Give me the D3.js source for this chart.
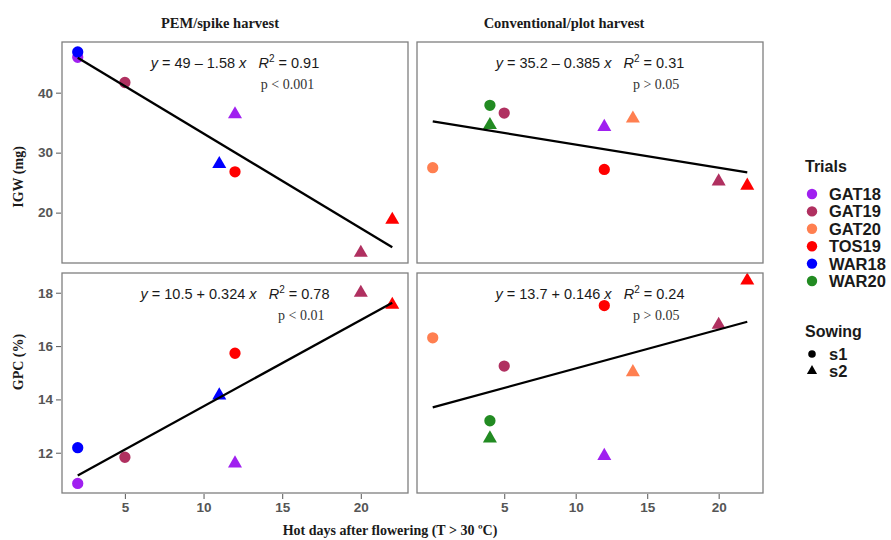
<!DOCTYPE html>
<html>
<head>
<meta charset="utf-8">
<script src="https://cdn.jsdelivr.net/npm/d3@7"></script>
<style>
  body { margin: 0; background: #fff; }
  svg { display: block; }
</style>
</head>
<body>
<svg id="chart" width="891" height="540"></svg>
<script>
// trials and their colours
var trials = ['GAT18', 'GAT19', 'GAT20', 'TOS19', 'WAR18', 'WAR20'];
var trialColors = ['#A020F0', '#B03060', '#FF7F50', '#FF0000', '#0000FF', '#228B22'];
var sowings = ['s1', 's2'];

var xTicks = [5, 10, 15, 20];
var igwTicks = [20, 30, 40];
var gpcTicks = [12, 14, 16, 18];

// [trial, sowing, hot days, value]
var igwPem = [
  ['GAT18', 's1', 2, 45.9], ['WAR18', 's1', 2, 46.8], ['GAT19', 's1', 5, 41.7],
  ['GAT18', 's2', 12, 36.4], ['WAR18', 's2', 11, 28.1], ['TOS19', 's1', 12, 26.8],
  ['GAT19', 's2', 20, 13.3], ['TOS19', 's2', 22, 18.8]
];
var igwConv = [
  ['GAT20', 's1', 0, 27.5], ['WAR20', 's1', 4, 37.9], ['WAR20', 's2', 4, 34.6],
  ['GAT19', 's1', 5, 36.6], ['GAT18', 's2', 12, 34.3], ['TOS19', 's1', 12, 27.2],
  ['GAT20', 's2', 14, 35.7], ['GAT19', 's2', 20, 25.2], ['TOS19', 's2', 22, 24.5]
];
var gpcPem = [
  ['WAR18', 's1', 2, 12.19], ['GAT18', 's1', 2, 10.85], ['GAT19', 's1', 5, 11.83],
  ['WAR18', 's2', 11, 14.15], ['TOS19', 's1', 12, 15.73], ['GAT18', 's2', 12, 11.6],
  ['GAT19', 's2', 20, 18.0], ['TOS19', 's2', 22, 17.55]
];
var gpcConv = [
  ['GAT20', 's1', 0, 16.31], ['GAT19', 's1', 5, 15.25], ['WAR20', 's1', 4, 13.2],
  ['WAR20', 's2', 4, 12.54], ['TOS19', 's1', 12, 17.52], ['GAT20', 's2', 14, 15.02],
  ['GAT18', 's2', 12, 11.88], ['GAT19', 's2', 20, 16.8], ['TOS19', 's2', 22, 18.46]
];

// regression fits: intercept, slope, R2 text, p text, x range
var fitIgwPem = { a: '49', b: -1.58, bt: '1.58', r2: '0.91', p: 'p < 0.001', x0: 2, x1: 22 };
var fitIgwConv = { a: '35.2', b: -0.385, bt: '0.385', r2: '0.31', p: 'p > 0.05', x0: 0, x1: 22 };
var fitGpcPem = { a: '10.5', b: 0.324, bt: '0.324', r2: '0.78', p: 'p < 0.01', x0: 2, x1: 22 };
var fitGpcConv = { a: '13.7', b: 0.146, bt: '0.146', r2: '0.24', p: 'p > 0.05', x0: 0, x1: 22 };

var svg = d3.select('#chart');
var sans = 'Liberation Sans, Arial, sans-serif';
var serif = 'Liberation Serif, Times New Roman, serif';

var color = d3.scaleOrdinal().domain(trials).range(trialColors);
var shape = d3.scaleOrdinal().domain(sowings).range([d3.symbolCircle, d3.symbolTriangle]);

var xLeft = d3.scaleLinear().domain([1, 23]).range([62, 408]);
var xRight = d3.scaleLinear().domain([-1.1, 23.1]).range([417, 763]);
var yTop = d3.scaleLinear().domain([11.6, 48.45]).range([263, 42]);
var yBot = d3.scaleLinear().domain([10.49, 18.74]).range([493, 273]);

var panels = [
  { pts: igwPem, fit: fitIgwPem, x: xLeft, y: yTop },
  { pts: igwConv, fit: fitIgwConv, x: xRight, y: yTop },
  { pts: gpcPem, fit: fitGpcPem, x: xLeft, y: yBot },
  { pts: gpcConv, fit: fitGpcConv, x: xRight, y: yBot }
];

panels.forEach(function(p) {
  var x0 = p.x.range()[0], x1 = p.x.range()[1];
  var y0 = p.y.range()[1], y1 = p.y.range()[0];
  var g = svg.append('g');

  g.selectAll('.pt')
    .data(p.pts)
    .enter().append('path')
    .attr('class', 'pt')
    .attr('transform', function(d) { return 'translate(' + p.x(d[2]) + ',' + p.y(d[3]) + ')'; })
    .attr('d', function(d) {
      return d3.symbol().type(shape(d[1])).size(d[1] === 's1' ? 100 : 85)();
    })
    .attr('fill', function(d) { return color(d[0]); });

  var f = p.fit;
  g.append('line')
    .attr('x1', p.x(f.x0)).attr('y1', p.y(+f.a + f.b * f.x0))
    .attr('x2', p.x(f.x1)).attr('y2', p.y(+f.a + f.b * f.x1))
    .attr('stroke', '#000').attr('stroke-width', 2.3);

  // equation
  var cx = (x0 + x1) / 2;
  var eq = g.append('text')
    .attr('x', cx).attr('y', y0 + 26)
    .attr('text-anchor', 'middle')
    .style('font-family', sans).style('font-size', '14.5px').attr('fill', '#1a1a1a');
  eq.append('tspan').style('font-style', 'italic').text('y');
  eq.append('tspan').text(' = ' + f.a + (f.b < 0 ? ' \u2013 ' : ' + ') + f.bt + ' ');
  eq.append('tspan').style('font-style', 'italic').text('x');
  eq.append('tspan').text('\u00a0\u00a0 ');
  eq.append('tspan').style('font-style', 'italic').text('R');
  eq.append('tspan').attr('dy', -6).style('font-size', '10px').text('2');
  eq.append('tspan').attr('dy', 6).text(' = ' + f.r2);
  var bb = eq.node().getBBox();
  g.append('text')
    .attr('x', bb.x + bb.width - 5).attr('y', y0 + 47)
    .attr('text-anchor', 'end')
    .style('font-family', serif).style('font-size', '14px').attr('fill', '#333')
    .text(f.p);

  g.append('rect')
    .attr('x', x0).attr('y', y0).attr('width', x1 - x0).attr('height', y1 - y0)
    .attr('fill', 'none').attr('stroke', '#7f7f7f').attr('stroke-width', 1.3);
});

function styleAxis(a) {
  a.select('.domain').remove();
  a.selectAll('.tick line').attr('stroke', '#666').attr('stroke-width', 1.1);
  a.selectAll('.tick text')
    .style('font-family', sans).style('font-size', '13.5px')
    .style('font-weight', 'bold').attr('fill', '#555');
}

svg.append('g').attr('transform', 'translate(61,0)')
  .call(d3.axisLeft(yTop).tickValues(igwTicks).tickSize(5).tickPadding(3))
  .call(styleAxis);
svg.append('g').attr('transform', 'translate(61,0)')
  .call(d3.axisLeft(yBot).tickValues(gpcTicks).tickSize(5).tickPadding(3))
  .call(styleAxis);
svg.append('g').attr('transform', 'translate(0,494)')
  .call(d3.axisBottom(xLeft).tickValues(xTicks).tickSize(5).tickPadding(3))
  .call(styleAxis);
svg.append('g').attr('transform', 'translate(0,494)')
  .call(d3.axisBottom(xRight).tickValues(xTicks).tickSize(5).tickPadding(3))
  .call(styleAxis);

// titles
function boldSerif(t, size) {
  return t.style('font-family', serif).style('font-weight', 'bold')
    .style('font-size', size).attr('fill', '#1a1a1a').attr('text-anchor', 'middle');
}
boldSerif(svg.append('text').attr('x', 220).attr('y', 28).text('PEM/spike harvest'), '14.5px');
boldSerif(svg.append('text').attr('x', 564).attr('y', 28).text('Conventional/plot harvest'), '14.5px');
boldSerif(svg.append('text').attr('x', 390).attr('y', 535).text('Hot days after flowering (T > 30 \u00baC)'), '14px');
boldSerif(svg.append('text').attr('transform', 'translate(23,177) rotate(-90)').text('IGW (mg)'), '14px');
boldSerif(svg.append('text').attr('transform', 'translate(23,362) rotate(-90)').text('GPC (%)'), '14px');

// legend
var lg = svg.append('g');
lg.append('text').attr('x', 805).attr('y', 172)
  .style('font-family', sans).style('font-weight', 'bold').style('font-size', '16px')
  .attr('fill', '#1a1a1a').text('Trials');
var ti = lg.selectAll('.ti').data(trials).enter().append('g')
  .attr('transform', function(d, i) { return 'translate(812,' + (194 + i * 17.4) + ')'; });
ti.append('circle').attr('r', 5.2).attr('fill', function(d) { return color(d); });
ti.append('text').attr('x', 17).attr('y', 6)
  .style('font-family', sans).style('font-weight', 'bold').style('font-size', '16.5px')
  .attr('fill', '#1a1a1a').text(function(d) { return d; });

lg.append('text').attr('x', 805).attr('y', 337)
  .style('font-family', sans).style('font-weight', 'bold').style('font-size', '16px')
  .attr('fill', '#1a1a1a').text('Sowing');
var si = lg.selectAll('.si').data(sowings).enter().append('g')
  .attr('transform', function(d, i) { return 'translate(812,' + (354 + i * 17) + ')'; });
si.append('path').attr('d', function(d) { return d3.symbol().type(shape(d)).size(45)(); })
  .attr('fill', '#000');
si.append('text').attr('x', 17).attr('y', 6)
  .style('font-family', sans).style('font-weight', 'bold').style('font-size', '16.5px')
  .attr('fill', '#1a1a1a').text(function(d) { return d; });
</script>
</body>
</html>
